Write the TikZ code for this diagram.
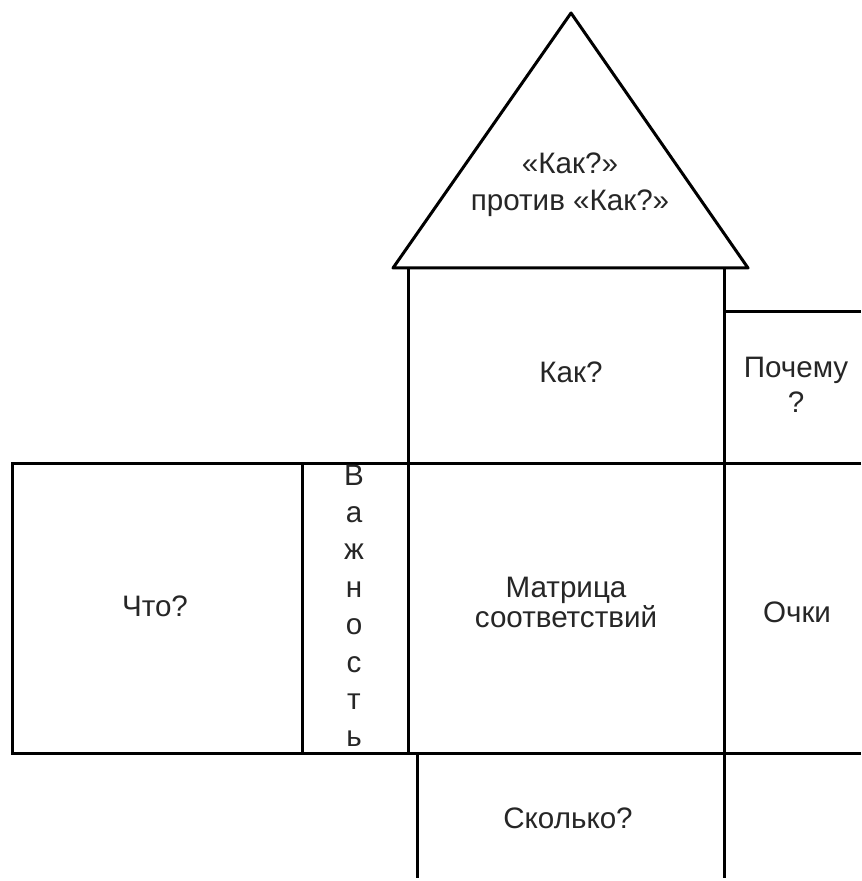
\documentclass[tikz,border=0pt]{standalone}
\usepackage{fontspec}
\setmainfont{Liberation Sans}
\begin{document}
\begin{tikzpicture}[x=0.5pt, y=-0.5pt, line width=1.5pt,
  lbl/.style={text=black!85, align=center, inner sep=0pt, font=\fontsize{14.8}{15}\selectfont}]
\useasboundingbox (0,0) rectangle (861,881);
% roof
\draw[line join=round] (393,268) -- (571,13) -- (748,268) -- cycle;
\node[lbl, font=\fontsize{14.8}{18.3}\selectfont] (roof) at (570,185) {«Как?»\\против «Как?»};
% how and why
\draw (408,268) -- (408,753);
\draw (724,268) -- (724,878);
\draw (724,312) -- (861,312);
\node[lbl] (how) at (571,372) {Как?};
\node[lbl, font=\fontsize{14.8}{17.5}\selectfont] (why) at (796,385) {Почему\\?};
% main row
\draw (861,463) -- (12,463) -- (12,753) -- (861,753);
\draw (302,463) -- (302,753);
\node[lbl] (what) at (155,606) {Что?};
\foreach \c [count=\i from 0] in {В,а,ж,н,о,с,т,ь}
  \node[lbl, anchor=base] (imp\i) at (354,485+37.4*\i) {\c};
\node[lbl] (matrix) at (566,602) {Матрица\\соответствий};
\node[lbl] (score) at (797,612) {Очки};
% how much
\draw (417,753) -- (417,878);
\node[lbl] (howmuch) at (568,818) {Сколько?};
\end{tikzpicture}
\end{document}
